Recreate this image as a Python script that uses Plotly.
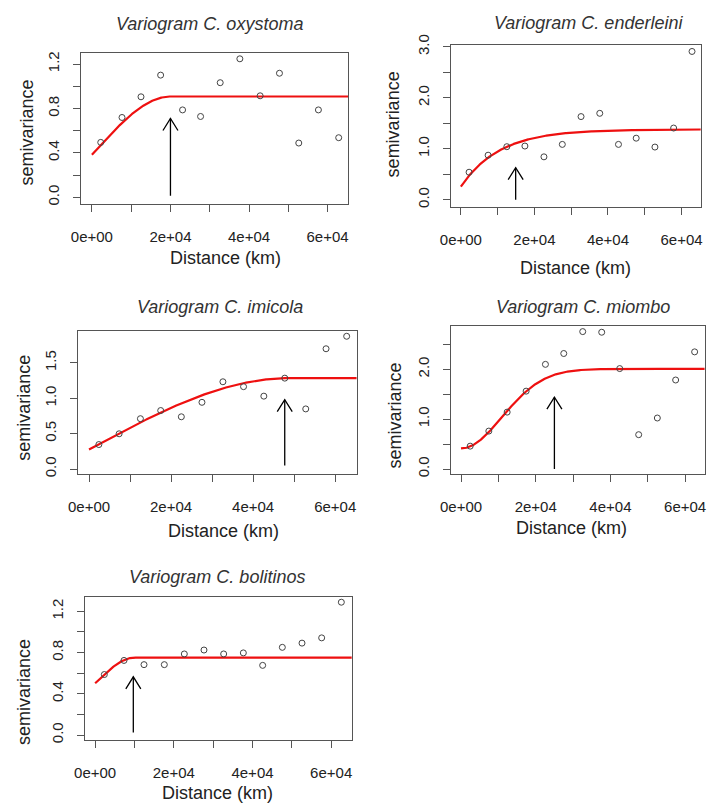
import numpy as np
import plotly.graph_objects as go

W, H = 709, 810

# ---------------- data ----------------
oxy_dist = [2250, 7667, 12500, 17500, 23083, 27667, 32667, 37667, 42833, 47750, 52667, 57667, 62833]
oxy_gamma = [0.495, 0.719, 0.905, 1.100, 0.787, 0.728, 1.032, 1.247, 0.914, 1.117, 0.489, 0.787, 0.537]

end_dist = [2232, 7411, 12500, 17411, 22589, 27589, 32679, 37768, 42857, 47679, 52768, 57857, 62857]
end_gamma = [0.540, 0.874, 1.041, 1.054, 0.842, 1.086, 1.632, 1.696, 1.086, 1.208, 1.034, 1.407, 2.910]

imi_dist = [2394, 7340, 12527, 17473, 22500, 27527, 32633, 37660, 42606, 47713, 52819, 57766, 62793]
imi_gamma = [0.346, 0.498, 0.711, 0.826, 0.738, 0.942, 1.232, 1.163, 1.029, 1.283, 0.849, 1.698, 1.874]

mio_dist = [2453, 7445, 12350, 17431, 22599, 27504, 32584, 37664, 42482, 47562, 52555, 57460, 62540]
mio_gamma = [0.459, 0.761, 1.141, 1.561, 2.098, 2.315, 2.754, 2.741, 2.013, 0.689, 1.023, 1.784, 2.348]

bol_dist = [2333, 7333, 12417, 17583, 22667, 27667, 32667, 37667, 42583, 47583, 52583, 57583, 62583]
bol_gamma = [0.587, 0.724, 0.683, 0.683, 0.787, 0.825, 0.787, 0.797, 0.676, 0.851, 0.892, 0.943, 1.289]

titles = ["Variogram C. oxystoma", "Variogram C. enderleini", "Variogram C. imicola",
          "Variogram C. miombo", "Variogram C. bolitinos"]

# fitted variogram models: (type, nugget, partial sill, range)
models = [("Sph", 0.383, 0.525, 20000),
          ("Exp", 0.257, 1.124, 10500),
          ("Sph", 0.277, 1.006, 48500),
          ("Gau", 0.413, 1.594, 15500),
          ("Sph", 0.502, 0.250, 10000)]

# arrows: (x, y_start, y_tip)
arrows = [(20000, 0.015, 0.71),
          (14900, 0.0, 0.63),
          (47700, 0.05, 0.98),
          (25000, 0.0, 1.44),
          (9700, 0.025, 0.565)]

x_tickvals = [0, 10000, 20000, 30000, 40000, 50000, 60000]
x_ticktext = ["0e+00", "", "2e+04", "", "4e+04", "", "6e+04"]

y_tickvals = [[0, 0.2, 0.4, 0.6, 0.8, 1.0, 1.2],
              [0, 0.5, 1.0, 1.5, 2.0, 2.5, 3.0],
              [0, 0.5, 1.0, 1.5],
              [0, 0.5, 1.0, 1.5, 2.0, 2.5],
              [0, 0.2, 0.4, 0.6, 0.8, 1.0, 1.2]]
y_ticktext = [["0.0", "", "0.4", "", "0.8", "", "1.2"],
              ["0.0", "", "1.0", "", "2.0", "", "3.0"],
              ["0.0", "0.5", "1.0", "1.5"],
              ["0.0", "", "1.0", "", "2.0", ""],
              ["0.0", "", "0.4", "", "0.8", "", "1.2"]]

dists = [oxy_dist, end_dist, imi_dist, mio_dist, bol_dist]
gammas = [oxy_gamma, end_gamma, imi_gamma, mio_gamma, bol_gamma]

# ---------------- layout geometry (pixels) ----------------
boxes = [(71.7, 343.0, 42.7, 196.7),
         (447.7, 701.7, 35.0, 199.3),
         (68.3, 351.7, 326.0, 471.7),
         (447.7, 705.7, 321.0, 471.7),
         (75.0, 346.7, 596.7, 742.3)]
y_ranges = [(-0.06, 1.30), (-0.135, 3.03), (-0.069, 1.949), (-0.098, 2.865), (-0.044, 1.343)]
x_range = (-2650, 65250)

title_pos = [(201.7, 13.7), (587.5, 12.5), (212.5, 301.2), (581.7, 301.2), (210.0, 576.7)]
xlab_pos = [(217.7, 251.8), (574.7, 262.0), (215.8, 530.2), (570.0, 526.8), (210.0, 796.8)]
ylab_pos = [(16.7, 123.3), (388.3, 115.8), (13.3, 404.2), (390.3, 412.5), (14.0, 694.2)]

FONT = "Liberation Sans, Arial, sans-serif"
TXT = "#222222"
AX = "#555555"


def model_curve(kind, nug, psill, rng, h):
    h = np.asarray(h, dtype=float)
    if kind == "Sph":
        r = np.minimum(h / rng, 1.0)
        return nug + psill * (1.5 * r - 0.5 * r ** 3)
    if kind == "Exp":
        return nug + psill * (1 - np.exp(-h / rng))
    return nug + psill * (1 - np.exp(-(h / rng) ** 2))


fig = go.Figure()
annotations = []
shapes = []

for i in range(5):
    xa = "x" if i == 0 else f"x{i+1}"
    ya = "y" if i == 0 else f"y{i+1}"
    l, r, t, b = boxes[i]
    xdom = [l / W, r / W]
    ydom = [1 - b / H, 1 - t / H]

    h = np.linspace(0, x_range[1], 400)
    kind, nug, ps, rg = models[i]
    fig.add_trace(go.Scatter(x=h, y=model_curve(kind, nug, ps, rg, h), mode="lines",
                             line=dict(color="#ee1010", width=2.2), xaxis=xa, yaxis=ya,
                             showlegend=False, hoverinfo="skip"))
    fig.add_trace(go.Scatter(x=dists[i], y=gammas[i], mode="markers",
                             marker=dict(symbol="circle-open", size=6, color="#444444",
                                         line=dict(width=1)),
                             xaxis=xa, yaxis=ya, showlegend=False))

    axkw = dict(showline=True, mirror=True, linecolor=AX, linewidth=1.2, showgrid=False,
                zeroline=False, ticks="outside", ticklen=7, tickcolor=AX, tickwidth=1,
                tickfont=dict(family=FONT, size=15, color=TXT), tickmode="array")
    fig.layout[("xaxis" if i == 0 else f"xaxis{i+1}")] = dict(
        domain=xdom, range=list(x_range), anchor=ya, tickvals=x_tickvals,
        ticktext=x_ticktext, ticklabelstandoff=12, **axkw)
    fig.layout[("yaxis" if i == 0 else f"yaxis{i+1}")] = dict(
        domain=ydom, range=list(y_ranges[i]), anchor=xa, tickvals=y_tickvals[i],
        ticktext=y_ticktext[i], tickangle=-90, ticklabelstandoff=8, **axkw)

    ax_, y0, y1 = arrows[i]
    shapes.append(dict(type="line", xref=xa, yref=ya, x0=ax_, x1=ax_, y0=y0, y1=y1,
                       line=dict(color="black", width=1.3)))
    shapes.append(dict(type="path", xref=xa, yref=ya, xsizemode="pixel", ysizemode="pixel",
                       xanchor=ax_, yanchor=y1, path="M-7.5,-12L0,0L7.5,-12",
                       line=dict(color="black", width=1.3)))

    tx, ty = title_pos[i]
    annotations.append(dict(text="<i>" + titles[i] + "</i>", xref="paper", yref="paper",
                            x=tx / W, y=1 - ty / H, xanchor="center", yanchor="middle",
                            showarrow=False, font=dict(family=FONT, size=18, color="#333333")))
    lx, ly = xlab_pos[i]
    annotations.append(dict(text="Distance (km)", xref="paper", yref="paper",
                            x=lx / W, y=1 - ly / H, xanchor="center", yanchor="middle",
                            showarrow=False, font=dict(family=FONT, size=18, color=TXT)))
    vx, vy = ylab_pos[i]
    annotations.append(dict(text="semivariance", xref="paper", yref="paper",
                            x=vx / W, y=1 - vy / H, xanchor="center", yanchor="middle",
                            textangle=-90, showarrow=False,
                            font=dict(family=FONT, size=18, color=TXT)))

fig.update_layout(width=W, height=H, margin=dict(l=0, r=0, t=0, b=0),
                  paper_bgcolor="white", plot_bgcolor="white",
                  annotations=annotations, shapes=shapes, showlegend=False)

fig.write_html("out.html", post_script="document.body.style.margin='0';",
               config={"displayModeBar": False})
